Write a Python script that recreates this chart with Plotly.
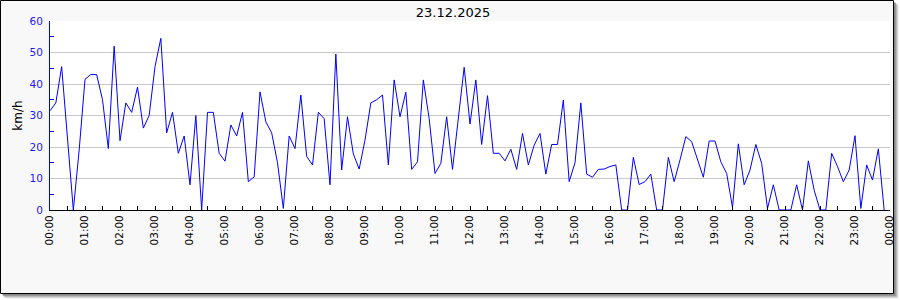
import pandas as pd
import plotly.graph_objects as go

title_text = "23.12.2025"
y_title = "km/h"
start_time = "2025-12-23 00:00"
end_time = "2025-12-24 00:00"

wind_kmh = [
    31.5, 34, 45.5, 22, 0, 19,            # 00:00 - 00:50
    41.5, 43, 43, 35, 19.5, 52,           # 01
    22, 34, 31, 39, 26, 30,               # 02
    45.5, 54.5, 24.5, 31, 18, 23.5,       # 03
    8, 30, 0, 31, 31, 18,                 # 04
    15.5, 27, 23.5, 31, 9, 10.5,          # 05
    37.5, 28, 24.5, 15, 0.5, 23.5,        # 06
    19.5, 36.5, 17, 14.3, 31, 29,         # 07
    8, 49.5, 12.7, 29.6, 17.8, 13,        # 08
    22.2, 34, 35, 36.5, 14.3, 41.3,       # 09
    29.6, 37.4, 12.9, 15.3, 41.3, 29,     # 10
    11.6, 14.8, 29.6, 12.9, 28.5, 45.3,   # 11
    27.3, 41.3, 20.8, 36.3, 18, 18,       # 12
    15.6, 19.3, 12.9, 24.3, 14.3, 20.6,   # 13
    24.3, 11.4, 20.8, 20.8, 34.9, 9,      # 14
    15, 34, 11.4, 10.4, 12.9, 13,         # 15
    13.8, 14.3, 0, 0, 16.7, 8.1,          # 16
    9, 11.4, 0, 0, 16.7, 9,               # 17
    15.9, 23.3, 21.7, 15.9, 10.4, 21.9,   # 18
    21.9, 15.3, 11.6, 0.8, 21, 8,         # 19
    12.7, 20.8, 14.8, 0.5, 8, 0,          # 20
    0, 0, 8, 0, 15.6, 6.3,                # 21
    0, 0, 18, 13.8, 9, 12.7,              # 22
    23.6, 0.5, 14.3, 9.5, 19.4, 0,        # 23
]
times = pd.date_range(start_time, periods=len(wind_kmh), freq="10min")

W, H = 900, 300
L, R, T, B = 50, 890, 21, 210  # plot area in pixels


def px(xp):
    return (xp - L) / (R - L)


def py(yp):
    return (B - yp) / (B - T)


shapes = []
# soft shadow
for off, col in [(5, "#e4e4e4"), (4, "#c8c8c8"), (3, "#a8a8a8"), (2, "#888888")]:
    shapes.append(dict(type="rect", xref="paper", yref="paper", layer="below",
                       x0=px(0.5 + off), x1=px(893.5 + off),
                       y0=py(0.5 + off), y1=py(293.5 + off),
                       fillcolor=col, line=dict(width=0)))
# frame
shapes.append(dict(type="rect", xref="paper", yref="paper", layer="below",
                   x0=px(0.5), x1=px(893.5), y0=py(0.5), y1=py(293.5),
                   fillcolor="#f8f8f8", line=dict(color="#000000", width=1)))
# white plot area
shapes.append(dict(type="rect", xref="paper", yref="paper", layer="below",
                   x0=0, x1=1, y0=0, y1=1,
                   fillcolor="#ffffff", line=dict(width=0)))

fig = go.Figure()
fig.add_trace(go.Scatter(x=times, y=wind_kmh, mode="lines",
                         line=dict(color="#0000ff", width=1),
                         hoverinfo="skip"))

fig.update_layout(
    width=W, height=H,
    margin=dict(l=L, r=W - R, t=T, b=H - B, autoexpand=False),
    paper_bgcolor="#ffffff",
    plot_bgcolor="#ffffff",
    showlegend=False,
    font=dict(family="DejaVu Sans", color="#000000"),
    title=dict(text=title_text, x=453 / W, y=1 - 12 / H, xref="container",
               yref="container", xanchor="center", yanchor="middle",
               font=dict(size=13, color="#000000", family="DejaVu Sans")),
    shapes=shapes,
)

fig.update_xaxes(
    type="date",
    range=[start_time, end_time],
    dtick=3600000,
    tick0=start_time,
    tickformat="%H:%M",
    tickangle=-90,
    ticks="inside", ticklen=4, tickcolor="#000000",
    minor=dict(dtick=1800000, ticks="inside", ticklen=4, tickcolor="#000000", showgrid=False),
    showline=True, linecolor="#000000", linewidth=1,
    showgrid=False, zeroline=False,
    tickfont=dict(size=10.5, color="#000000", family="DejaVu Sans"),
    fixedrange=True,
)

fig.update_yaxes(
    range=[0, 60],
    dtick=10,
    ticks="",
    minor=dict(dtick=5, ticks="inside", ticklen=4, tickcolor="#0000ff", showgrid=False),
    showline=True, linecolor="#0000ff", linewidth=1,
    showgrid=True, gridcolor="#c8c8c8", gridwidth=1,
    zeroline=False,
    ticklabelstandoff=4,
    tickfont=dict(size=10.5, color="#1a1aff", family="DejaVu Sans"),
    title=dict(text=y_title, font=dict(size=12, color="#000000", family="DejaVu Sans"), standoff=4),
    fixedrange=True,
)

fig.write_html("out.html", config=dict(displayModeBar=False))
